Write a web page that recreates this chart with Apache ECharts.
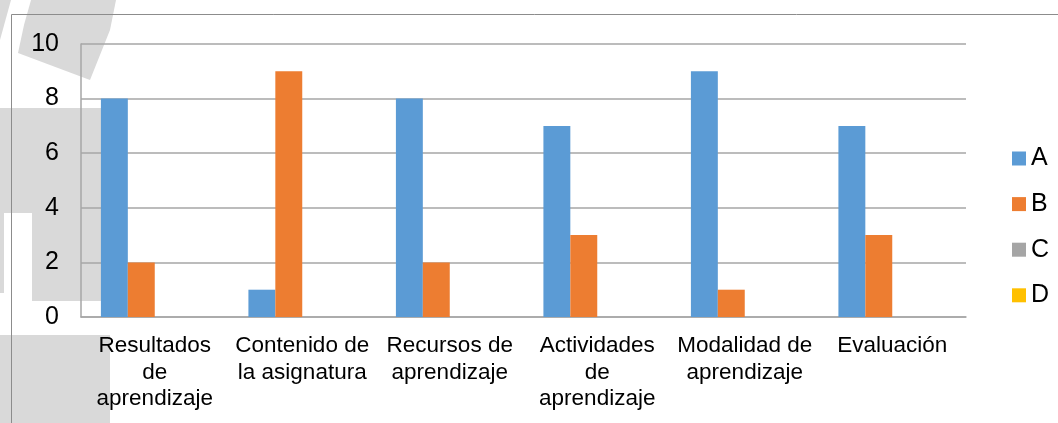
<!DOCTYPE html>
<html>
<head>
<meta charset="utf-8">
<script src="https://cdn.jsdelivr.net/npm/echarts@6/dist/echarts.min.js"></script>
<style>
html,body{margin:0;padding:0;background:#fff;}
#c{width:1058px;height:423px;}
</style>
</head>
<body>
<div id="c"></div>
<script>
const categories = [
  "Resultados\nde\naprendizaje",
  "Contenido de\nla asignatura",
  "Recursos de\naprendizaje",
  "Actividades\nde\naprendizaje",
  "Modalidad de\naprendizaje",
  "Evaluación"
];
const seriesNames = ["A", "B", "C", "D"];
const valuesA = [8, 1, 8, 7, 9, 7];
const valuesB = [2, 9, 2, 3, 1, 3];
const valuesC = [0, 0, 0, 0, 0, 0];
const valuesD = [0, 0, 0, 0, 0, 0];
const seriesValues = [valuesA, valuesB, valuesC, valuesD];
const colors = ["#5B9BD5", "#ED7D31", "#A5A5A5", "#FFC000"];

const FONT = "Liberation Sans, Arial, sans-serif";
const wm = "#d9d9d9";
const chart = echarts.init(document.getElementById('c'));
chart.setOption({
  animation: false,
  backgroundColor: '#fff',
  color: colors,
  graphic: [
    {type:'polygon', z:-5, shape:{points:[[31,0],[116,0],[110,30],[90,80],[18,53],[24,25]]}, style:{fill:wm}},
    {type:'polygon', z:-5, shape:{points:[[0,0],[11,0],[0,40]]}, style:{fill:wm}},
    {type:'rect', z:-5, shape:{x:0,y:108,width:102,height:105}, style:{fill:wm}},
    {type:'rect', z:-5, shape:{x:32,y:213,width:70,height:88}, style:{fill:wm}},
    {type:'rect', z:-5, shape:{x:0,y:213,width:4,height:80}, style:{fill:wm}},
    {type:'rect', z:-5, shape:{x:0,y:335,width:110,height:88}, style:{fill:wm}},
    {type:'line', z:50, shape:{x1:11.5,y1:14.5,x2:1058,y2:14.5}, style:{stroke:'#8c8c8c', lineWidth:1}},
    {type:'line', z:50, shape:{x1:11.5,y1:14.5,x2:11.5,y2:423}, style:{stroke:'#8c8c8c', lineWidth:1}}
  ],
  grid: {left: 81, right: 92, top: 44, bottom: 106, containLabel: false},
  legend: {
    orient: 'vertical',
    left: 1007,
    top: 141,
    itemWidth: 14,
    itemHeight: 14,
    itemGap: 20.6,
    icon: 'rect',
    textStyle: {fontFamily: FONT, fontSize: 25, lineHeight: 25, color: '#000', padding: [0,0,0,0]},
    data: seriesNames
  },
  xAxis: {
    type: 'category',
    data: categories,
    axisLine: {show: true, lineStyle: {color: '#a6a6a6', width: 1.5}},
    axisTick: {show: false},
    axisLabel: {interval: 0, fontFamily: FONT, fontSize: 22.5, color: '#000', lineHeight: 26.5, margin: 16, align: 'center'}
  },
  yAxis: {
    type: 'value',
    min: 0, max: 10, interval: 2,
    axisLine: {show: true, lineStyle: {color: '#a6a6a6', width: 1.5}},
    axisTick: {show: false},
    splitLine: {show: true, lineStyle: {color: '#a6a6a6', width: 1.5}},
    axisLabel: {fontFamily: FONT, fontSize: 25, color: '#000', margin: 22}
  },
  series: seriesNames.map((n, i) => ({
    name: n,
    type: 'bar',
    data: seriesValues[i],
    barGap: '0%',
    barCategoryGap: '27%',
    itemStyle: {color: colors[i]}
  }))
});
</script>
</body>
</html>
